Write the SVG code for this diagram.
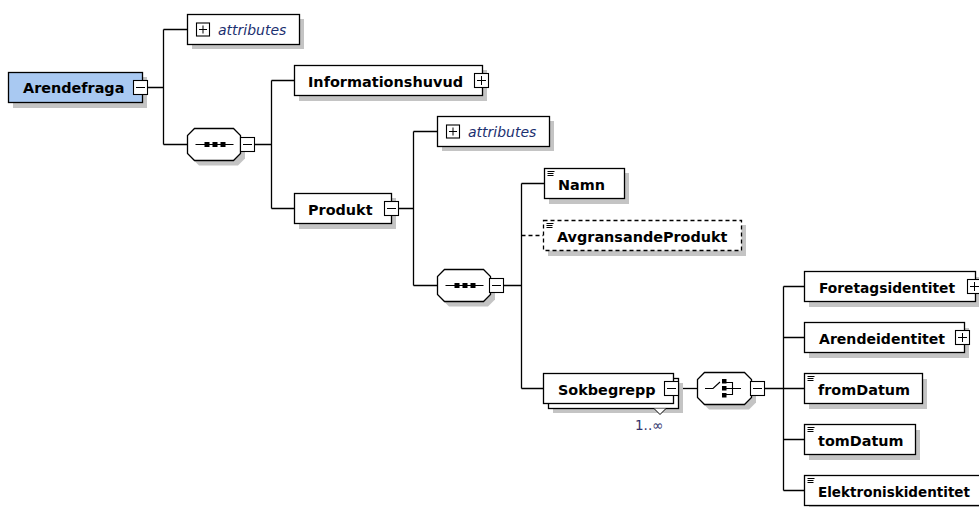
<svg xmlns="http://www.w3.org/2000/svg" width="979" height="507" viewBox="0 0 979 507">
<defs>
<style>
.bx{fill:#fff;stroke:#000;stroke-width:1.3}
.root{fill:#a9c9f2;stroke:#000;stroke-width:1.3}
.dash{fill:#fff;stroke:#000;stroke-width:1.3;stroke-dasharray:4,3}
.sh{fill:#c4c4c4}
.t{font-family:"DejaVu Sans",Verdana,sans-serif;font-weight:bold;font-size:14.4px;fill:#000}
.at{font-family:"DejaVu Sans",Verdana,sans-serif;font-style:italic;font-size:14px;fill:#1c3070}
.occ{font-family:"DejaVu Sans",Verdana,sans-serif;font-size:13.5px;fill:#33336b}
.c{fill:none;stroke:#000;stroke-width:1.3}
.cd{fill:none;stroke:#000;stroke-width:1.3;stroke-dasharray:4,3}
.ic{fill:none;stroke:#000;stroke-width:1.1}
</style>
<g id="minus"><rect x="0.5" y="0.5" width="14" height="14" fill="#fff" stroke="#000" stroke-width="1.1"/><line x1="3" y1="7.5" x2="12" y2="7.5" stroke="#000" stroke-width="1"/></g>
<g id="plus"><rect x="0.5" y="0.5" width="14" height="14" fill="#fff" stroke="#000" stroke-width="1.1"/><line x1="3" y1="7.5" x2="12" y2="7.5" stroke="#000" stroke-width="1"/><line x1="7.5" y1="3" x2="7.5" y2="12" stroke="#000" stroke-width="1"/></g>
<g id="aplus"><rect x="0.5" y="0.5" width="13" height="13" fill="#fff" stroke="#000" stroke-width="1.1"/><line x1="3" y1="7" x2="11" y2="7" stroke="#000" stroke-width="1"/><line x1="7" y1="3" x2="7" y2="11" stroke="#000" stroke-width="1"/></g>
<g id="leaf"><path d="M3 3H10M3 5H9M3 7H9" stroke="#000" stroke-width="1" fill="none"/></g>
<polygon id="oct" points="7,0 46,0 53,7 53,25 46,32 7,32 0,25 0,7"/>
<polygon id="octc" points="7,0 47,0 54,7 54,25 47,32 7,32 0,25 0,7"/>
<g id="seqicon"><line x1="8" y1="16" x2="46" y2="16" stroke="#000" stroke-width="1.2"/><rect x="17" y="13.5" width="5" height="5" fill="#000"/><rect x="25" y="13.5" width="5" height="5" fill="#000"/><rect x="33" y="13.5" width="5" height="5" fill="#000"/></g>
</defs>
<rect width="979" height="507" fill="#fff"/>

<g id="connectors">
<path class="c" d="M148 87.5H163.5M163.5 29.5V144.5M163.5 29.5H187.5M163.5 144.5H187.5"/>
<path class="c" d="M255 144.5H271.5M271.5 80.5V208.5M271.5 80.5H294.5M271.5 208.5H294.5"/>
<path class="c" d="M399 208.5H413.5M413.5 131.5V285.5M413.5 131.5H437.5M413.5 285.5H437.5"/>
<path class="c" d="M504 285.5H521.5M521.5 183.5V388.5M521.5 183.5H544.5M521.5 388.5H543.5"/>
<path class="cd" d="M521.5 235.5H543.5"/>
<path class="c" d="M679 388.5H697.5"/>
<path class="c" d="M765 388.5H783.5M783.5 286.5V490.5M783.5 286.5H804.5M783.5 337.5H804.5M783.5 388.5H804.5M783.5 439.5H804.5M783.5 490.5H804.5"/>
</g>

<g id="n-arendefraga">
<rect class="sh" x="13" y="77" width="134" height="31"/>
<rect class="root" x="8.5" y="72.5" width="134" height="30"/>
<text class="t" x="23" y="93">Arendefraga</text>
<use href="#minus" x="133" y="80"/>
</g>

<g id="n-attributes1">
<rect class="sh" x="192" y="19" width="112" height="30"/>
<rect class="bx" x="187.5" y="14.5" width="112" height="30"/>
<use href="#aplus" x="196" y="22.5"/>
<text class="at" x="218" y="35">attributes</text>
</g>

<g id="n-seq1">
<use href="#oct" x="192" y="133.5" class="sh"/>
<use href="#oct" x="187.5" y="128.5" class="bx"/>
<use href="#seqicon" x="187.5" y="128.5"/>
<use href="#minus" x="240" y="137"/>
</g>

<g id="n-informationshuvud">
<rect class="sh" x="299" y="70" width="188" height="31"/>
<rect class="bx" x="294.5" y="65.5" width="188" height="30"/>
<text class="t" x="308" y="86.5" textLength="155" lengthAdjust="spacingAndGlyphs">Informationshuvud</text>
<use href="#plus" x="474" y="73"/>
</g>

<g id="n-produkt">
<rect class="sh" x="299" y="198" width="97" height="31"/>
<rect class="bx" x="294.5" y="193.5" width="97" height="30"/>
<text class="t" x="308" y="214.5">Produkt</text>
<use href="#minus" x="384" y="201"/>
</g>

<g id="n-attributes2">
<rect class="sh" x="442" y="121" width="112" height="30"/>
<rect class="bx" x="437.5" y="116.5" width="112" height="30"/>
<use href="#aplus" x="446" y="124.5"/>
<text class="at" x="468" y="137">attributes</text>
</g>

<g id="n-seq2">
<use href="#oct" x="442" y="274.5" class="sh"/>
<use href="#oct" x="437.5" y="269.5" class="bx"/>
<use href="#seqicon" x="437.5" y="269.5"/>
<use href="#minus" x="489" y="278"/>
</g>

<g id="n-namn">
<rect class="sh" x="549" y="173" width="80" height="31"/>
<rect class="bx" x="544.5" y="168.5" width="80" height="30"/>
<use href="#leaf" x="544.5" y="168.5"/>
<text class="t" x="558" y="189.5">Namn</text>
</g>

<g id="n-avgransandeprodukt">
<rect class="sh" x="548" y="225" width="198" height="31"/>
<rect class="dash" x="543.5" y="220.5" width="198" height="30"/>
<use href="#leaf" x="543.5" y="220.5"/>
<text class="t" x="557" y="241.5">AvgransandeProdukt</text>
</g>

<g id="n-sokbegrepp">
<rect class="sh" x="553" y="383" width="130" height="30"/>
<rect class="bx" x="548.5" y="378.5" width="130" height="30"/>
<rect class="bx" x="543.5" y="373.5" width="130" height="30"/>
<polyline points="654,408.5 660,414.5 666,408.5" fill="#fff" stroke="#000" stroke-width="1"/>
<text class="t" x="558" y="394.5">Sokbegrepp</text>
<use href="#minus" x="664" y="381"/>
<text class="occ" x="635" y="430">1..∞</text>
</g>

<g id="n-choice">
<use href="#octc" x="702" y="377.5" class="sh"/>
<use href="#octc" x="697.5" y="372.5" class="bx"/>
<path class="ic" d="M705 388.5H713L720 382M726 382.5H732.5V394.5H726M726 388.5H741"/>
<rect x="722" y="379" width="4.5" height="4.5" fill="#000"/>
<rect x="722" y="386" width="4.5" height="4.5" fill="#000"/>
<rect x="722" y="393" width="4.5" height="4.5" fill="#000"/>
<use href="#minus" x="750" y="381"/>
</g>

<g id="n-foretagsidentitet">
<rect class="sh" x="809" y="277" width="171" height="30"/>
<rect class="bx" x="804.5" y="271.5" width="171" height="30"/>
<text class="t" x="819" y="292.5" textLength="136" lengthAdjust="spacingAndGlyphs">Foretagsidentitet</text>
<use href="#plus" x="967" y="279"/>
</g>

<g id="n-arendeidentitet">
<rect class="sh" x="809" y="328" width="160" height="30"/>
<rect class="bx" x="804.5" y="322.5" width="160" height="30"/>
<text class="t" x="819" y="343.5" textLength="126" lengthAdjust="spacingAndGlyphs">Arendeidentitet</text>
<use href="#plus" x="955" y="330"/>
</g>

<g id="n-fromdatum">
<rect class="sh" x="809" y="379" width="118" height="30"/>
<rect class="bx" x="804.5" y="373.5" width="118" height="30"/>
<use href="#leaf" x="804.5" y="373.5"/>
<text class="t" x="818" y="394.5">fromDatum</text>
</g>

<g id="n-tomdatum">
<rect class="sh" x="809" y="430" width="111" height="30"/>
<rect class="bx" x="804.5" y="424.5" width="111" height="30"/>
<use href="#leaf" x="804.5" y="424.5"/>
<text class="t" x="818" y="445.5">tomDatum</text>
</g>

<g id="n-elektroniskidentitet">
<rect class="sh" x="809" y="481" width="180" height="30"/>
<rect class="bx" x="804.5" y="475.5" width="180" height="30"/>
<use href="#leaf" x="804.5" y="475.5"/>
<text class="t" x="818" y="496.5" textLength="152" lengthAdjust="spacingAndGlyphs">Elektroniskidentitet</text>
</g>
</svg>
